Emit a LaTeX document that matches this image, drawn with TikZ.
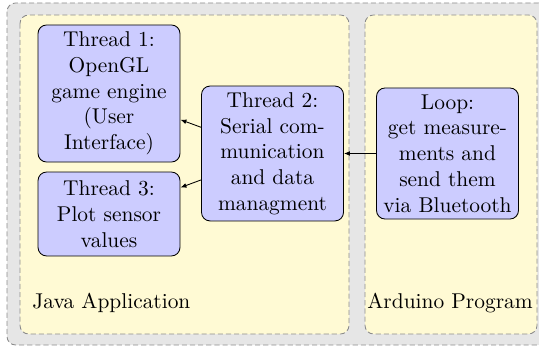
\documentclass[tikz,border=0pt]{standalone}
\usetikzlibrary{arrows.meta}
\definecolor{paleyellow}{RGB}{255,250,212}
\definecolor{bggray}{RGB}{230,230,230}
\definecolor{dashgray}{RGB}{140,140,140}
\begin{document}
\begin{tikzpicture}[x=0.467pt,y=-0.467pt,
  thread/.style={draw=black, fill=blue!20, rounded corners=4pt, align=center,
    minimum width=66.3pt, inner sep=2pt, font=\normalsize},
  area/.style={draw=dashgray, dash pattern=on 2.4pt off 1.4pt, fill=paleyellow, rounded corners=4pt},
  outerbox/.style={draw=dashgray, dash pattern=on 2.4pt off 1.4pt, fill=bggray, rounded corners=4pt},
  lbl/.style={anchor=base west, inner sep=0pt},
  conn/.style={-{Latex[length=2.8pt,width=2.2pt]}}]
\useasboundingbox (0,0) rectangle (539,347);
\draw[outerbox] (7,3) rectangle (547,345);
\draw[area] (20,15) rectangle (349,334);
\draw[area] (365,15) rectangle (537,334);
\node[thread, minimum height=64pt] (t1) at (109,93.5) {Thread 1:\\OpenGL\\game engine\\(User\\Interface)};
\node[thread, minimum height=39.2pt] (t3) at (109,214) {Thread 3:\\Plot sensor\\values};
\node[thread, minimum height=63pt] (t2) at (272.5,153.5) {Thread 2:\\Serial com-\\munication\\and data\\managment};
\node[thread, minimum height=61.2pt] (loop) at (447.5,153.5) {Loop:\\get measure-\\ments and\\send them\\via Bluetooth};
\node[lbl] (ljava) at (32,309) {Java Application};
\node[lbl] (lard) at (367,309) {Arduino Program};
\draw[conn] (t2) -- (t1);
\draw[conn] (t2) -- (t3);
\draw[conn] (loop) -- (t2);
\end{tikzpicture}
\end{document}
